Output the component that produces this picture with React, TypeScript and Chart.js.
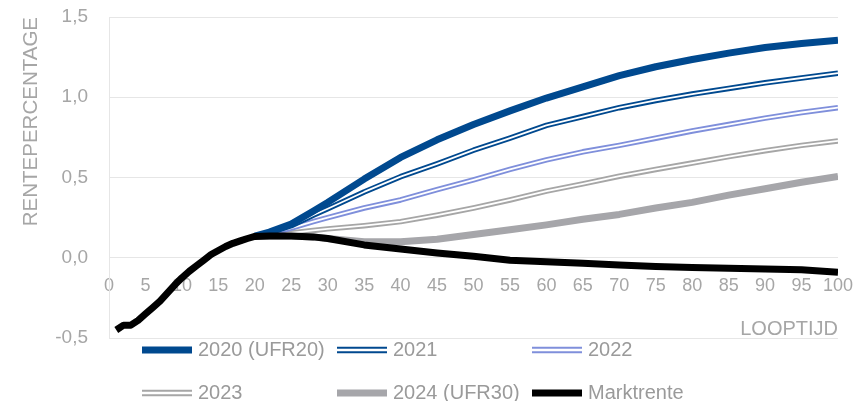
import React, { useEffect, useRef } from "react";
import { Chart, registerables } from "chart.js";

Chart.register(...registerables);

// ---- Data ----
const marketMaturities = [1, 2, 3, 4, 5, 6, 7, 8, 9, 10, 11, 12, 13, 14, 15, 16, 17, 18, 19, 20, 22, 25, 28, 30, 35, 40, 45, 50, 55, 60, 65, 70, 75, 80, 85, 90, 95, 100];
const marktrente = [-0.45, -0.42, -0.42, -0.39, -0.35, -0.31, -0.27, -0.22, -0.17, -0.125, -0.085, -0.05, -0.015, 0.02, 0.045, 0.07, 0.09, 0.105, 0.12, 0.133, 0.135, 0.135, 0.13, 0.12, 0.08, 0.055, 0.03, 0.01, -0.015, -0.025, -0.035, -0.045, -0.055, -0.06, -0.065, -0.07, -0.075, -0.09];

const curveMaturities = [20, 22, 25, 28, 30, 35, 40, 45, 50, 55, 60, 65, 70, 75, 80, 85, 90, 95, 100];
const curve2020 = [0.135, 0.16, 0.21, 0.29, 0.345, 0.49, 0.625, 0.735, 0.83, 0.915, 0.995, 1.065, 1.135, 1.19, 1.235, 1.275, 1.31, 1.335, 1.356];
const curve2021 = [0.135, 0.155, 0.2, 0.265, 0.305, 0.41, 0.505, 0.585, 0.67, 0.745, 0.825, 0.88, 0.935, 0.98, 1.02, 1.055, 1.09, 1.12, 1.15];
const curve2022 = [0.135, 0.15, 0.185, 0.225, 0.25, 0.31, 0.36, 0.425, 0.485, 0.55, 0.61, 0.66, 0.7, 0.745, 0.79, 0.83, 0.87, 0.905, 0.935];
const curve2023 = [0.135, 0.14, 0.155, 0.17, 0.18, 0.2, 0.225, 0.265, 0.31, 0.36, 0.415, 0.46, 0.508, 0.55, 0.59, 0.63, 0.667, 0.7, 0.728];
const curve2024 = [0.135, 0.135, 0.135, 0.13, 0.12, 0.1, 0.1, 0.115, 0.145, 0.175, 0.205, 0.24, 0.27, 0.31, 0.345, 0.39, 0.43, 0.47, 0.506];

const seriesLabels = ["2020 (UFR20)", "2021", "2022", "2023", "2024 (UFR30)", "Marktrente"];
const yTitle = "RENTEPERCENTAGE";
const xTitle = "LOOPTIJD";

// ---- Styles ----
const FONT = "'Liberation Sans', Arial, Helvetica, sans-serif";
const AXIS_TEXT = "#a6a6a6";
const LEGEND_TEXT = "#9a9a9a";
const GRID = "#e6e6e6";
const DARK_BLUE = "#00498f";
const LIGHT_BLUE = "#7f8fdb";
const GREY = "#a6a6a6";
const GREY_THICK = "#a6a6aa";

const toPoints = (xs: number[], ys: number[]) => xs.map((x, i) => ({ x, y: ys[i] }));

const doubleLinePlugin = {
  id: "doubleLine",
  afterDatasetDraw(chart: any, args: any) {
    const ds = chart.data.datasets[args.index];
    if (!ds.doubleLine) return;
    const pts = args.meta.data;
    const { ctx, chartArea } = chart;
    ctx.save();
    ctx.beginPath();
    ctx.rect(chartArea.left, chartArea.top - 5, chartArea.right - chartArea.left, chartArea.bottom - chartArea.top + 10);
    ctx.clip();
    ctx.beginPath();
    pts.forEach((p: any, i: number) => (i ? ctx.lineTo(p.x, p.y) : ctx.moveTo(p.x, p.y)));
    ctx.strokeStyle = "#ffffff";
    ctx.lineWidth = ds.coreWidth;
    ctx.lineJoin = "round";
    ctx.lineCap = "butt";
    ctx.stroke();
    ctx.restore();
  },
};

const gridLegendPlugin = {
  id: "gridLegend",
  afterDraw(chart: any) {
    const { ctx, chartArea } = chart;
    ctx.save();
    ctx.font = `20px ${FONT}`;
    ctx.textBaseline = "middle";
    ctx.textAlign = "left";
    chart.data.datasets.forEach((ds: any, i: number) => {
      const col = i % 3;
      const row = Math.floor(i / 3);
      const x = chartArea.left + 33 + col * 195;
      const y = chartArea.bottom + 12 + row * 43;
      ctx.beginPath();
      ctx.moveTo(x, y);
      ctx.lineTo(x + 50, y);
      ctx.strokeStyle = ds.borderColor;
      ctx.lineWidth = ds.doubleLine ? 6.5 : 7;
      ctx.lineCap = "butt";
      ctx.stroke();
      if (ds.doubleLine) {
        ctx.beginPath();
        ctx.moveTo(x, y);
        ctx.lineTo(x + 50, y);
        ctx.strokeStyle = "#ffffff";
        ctx.lineWidth = 2.5;
        ctx.stroke();
      }
      ctx.fillStyle = LEGEND_TEXT;
      ctx.fillText(ds.label, x + 56, y);
    });
    ctx.restore();
  },
};

export default function App() {
  const canvasRef = useRef<HTMLCanvasElement | null>(null);

  useEffect(() => {
    document.body.style.margin = "0";
    const canvas = canvasRef.current;
    if (!canvas) return;

    const base = {
      fill: false,
      pointRadius: 0,
      pointHoverRadius: 0,
      tension: 0,
      borderJoinStyle: "round" as const,
      borderCapStyle: "butt" as const,
    };

    const chart = new Chart(canvas, {
      type: "line",
      data: {
        datasets: [
          { ...base, label: seriesLabels[0], data: toPoints(curveMaturities, curve2020), borderColor: DARK_BLUE, borderWidth: 7, order: 1 },
          { ...base, label: seriesLabels[1], data: toPoints(curveMaturities, curve2021), borderColor: DARK_BLUE, borderWidth: 5.5, doubleLine: true, coreWidth: 1.8, order: 2 } as any,
          { ...base, label: seriesLabels[2], data: toPoints(curveMaturities, curve2022), borderColor: LIGHT_BLUE, borderWidth: 5.5, doubleLine: true, coreWidth: 1.8, order: 3 } as any,
          { ...base, label: seriesLabels[3], data: toPoints(curveMaturities, curve2023), borderColor: GREY, borderWidth: 5.5, doubleLine: true, coreWidth: 1.8, order: 4 } as any,
          { ...base, label: seriesLabels[4], data: toPoints(curveMaturities, curve2024), borderColor: GREY_THICK, borderWidth: 7, order: 5 },
          { ...base, label: seriesLabels[5], data: toPoints(marketMaturities, marktrente), borderColor: "#000000", borderWidth: 7, order: 0 },
        ],
      },
      options: {
        animation: false,
        responsive: true,
        maintainAspectRatio: false,
        events: [],
        layout: { padding: { top: 17, right: 28, bottom: 63, left: 0 } },
        plugins: {
          legend: { display: false },
          tooltip: { enabled: false },
          title: { display: false },
        },
        scales: {
          x: {
            type: "linear",
            position: { y: 0 } as any,
            min: 0,
            max: 100,
            afterFit: (scale: any) => {
              scale.paddingLeft = 0;
              scale.paddingRight = 0;
              scale.paddingTop = 0;
              scale.paddingBottom = 0;
            },
            grid: { display: false, drawTicks: false },
            border: { display: false },
            ticks: {
              stepSize: 5,
              autoSkip: false,
              maxRotation: 0,
              padding: 17,
              color: AXIS_TEXT,
              font: { family: FONT, size: 18 },
            },
            title: {
              display: true,
              text: xTitle,
              align: "end",
              color: AXIS_TEXT,
              font: { family: FONT, size: 20 },
              padding: { top: 4.5, bottom: 0 },
            },
          },
          y: {
            type: "linear",
            position: "left",
            min: -0.5,
            max: 1.5,
            afterFit: (scale: any) => {
              scale.width = 109;
              scale.paddingTop = 0;
              scale.paddingBottom = 0;
            },
            grid: { color: GRID, lineWidth: 1, drawTicks: false },
            border: { display: true, color: GRID, width: 1 },
            ticks: {
              stepSize: 0.5,
              padding: 21,
              color: AXIS_TEXT,
              font: { family: FONT, size: 19 },
              callback: (v: any) => Number(v).toFixed(1).replace(".", ","),
            },
            title: {
              display: true,
              text: yTitle,
              align: "end",
              color: AXIS_TEXT,
              font: { family: FONT, size: 20.5 },
              padding: { top: 19, bottom: 0 },
            },
          },
        },
      },
      plugins: [doubleLinePlugin, gridLegendPlugin],
    });

    return () => chart.destroy();
  }, []);

  return (
    <div style={{ width: 866, height: 401, position: "relative", background: "#ffffff" }}>
      <canvas ref={canvasRef} />
    </div>
  );
}
